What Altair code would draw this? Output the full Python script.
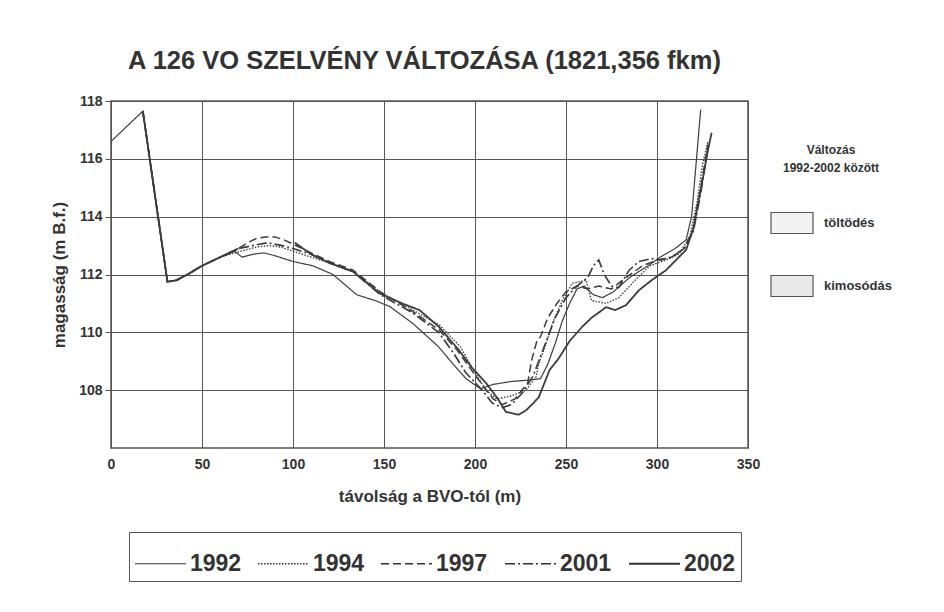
import altair as alt
import pandas as pd

# ---- data ----
years = ["1992", "1994", "1997", "2001", "2002"]

x_1992 = [0, 17.5, 31, 36, 42, 50, 60, 68, 72, 78, 84, 90, 95, 100, 111, 122, 135, 145, 153, 166, 180, 188, 195, 203, 210, 220, 230, 236, 240, 244, 248, 252, 256, 260, 265, 270, 276, 285, 295, 303, 310, 316, 319, 324]
y_1992 = [116.6, 117.65, 111.75, 111.8, 112.0, 112.3, 112.6, 112.8, 112.6, 112.7, 112.75, 112.65, 112.55, 112.45, 112.3, 112.0, 111.3, 111.1, 110.9, 110.3, 109.5, 108.9, 108.4, 108.05, 108.2, 108.3, 108.35, 108.4, 108.9, 109.6, 110.4, 111.0, 111.5, 111.6, 111.3, 111.2, 111.4, 111.9, 112.3, 112.65, 112.9, 113.2, 114.0, 117.7]

x_1994 = [17.5, 31, 36, 42, 50, 60, 71, 80, 87, 93, 98, 110, 120, 133, 149, 165, 180.5, 192, 200, 206, 212, 220, 228, 233.5, 235, 239, 242.5, 248, 253.5, 261, 264, 272, 279, 288, 296, 305, 312, 318, 322, 325, 328]
y_1994 = [117.65, 111.75, 111.8, 112.0, 112.3, 112.6, 112.8, 112.95, 113.0, 112.95, 112.85, 112.6, 112.4, 112.1, 111.35, 110.8, 110.25, 109.5, 108.6, 108.0, 107.7, 107.8, 108.0, 108.45, 108.9, 109.6, 110.3, 111.1, 111.7, 111.8, 111.1, 111.0, 111.2, 111.8, 112.3, 112.5, 112.7, 113.3, 114.5, 115.8, 116.6]

x_1997 = [17.5, 31, 36, 42, 50, 60, 70, 75, 80, 85, 90, 95, 100, 110, 120, 133, 148, 165, 180, 190, 198, 205, 210, 215, 222, 229, 231, 234, 236, 240, 245, 250, 256, 262, 268, 275, 283, 292, 300, 308, 315, 320, 324, 328]
y_1997 = [117.65, 111.75, 111.8, 112.0, 112.3, 112.6, 112.9, 113.1, 113.25, 113.3, 113.3, 113.2, 113.05, 112.75, 112.45, 112.15, 111.4, 110.75, 110.1, 109.4, 108.7, 108.1, 107.7, 107.5, 107.7, 108.25, 109.0, 109.7, 109.85, 110.5, 111.0, 111.4, 111.6, 111.5, 111.6, 111.5, 111.9, 112.3, 112.5, 112.6, 112.9, 113.6, 115.0, 116.5]

x_2001 = [17.5, 31, 36, 42, 50, 60, 70, 78, 86, 94, 100, 110, 120, 133, 148, 165, 180, 188, 195, 204, 209.5, 215, 220, 226, 232, 238, 244, 250, 256, 262, 265, 268, 271, 275, 279, 284.7, 290, 297, 302, 308, 315, 320, 324, 328]
y_2001 = [117.65, 111.75, 111.8, 112.0, 112.3, 112.6, 112.9, 113.0, 113.1, 113.0, 112.9, 112.7, 112.4, 112.1, 111.3, 110.7, 110.0, 109.3, 108.6, 108.0, 107.55, 107.4, 107.5, 107.9, 108.5, 109.5, 110.5, 111.2, 111.6, 111.9, 112.3, 112.5, 112.0, 111.6, 111.55, 112.15, 112.45, 112.55, 112.5, 112.6, 112.9, 113.5, 114.8, 116.4]

# 2002 is drawn in two pieces (gap between ~70 m and ~100 m)
x_2002a = [17.5, 31, 36, 42, 50, 60, 70]
y_2002a = [117.65, 111.75, 111.8, 112.0, 112.3, 112.6, 112.9]
x_2002b = [101, 110, 120, 133, 147.5, 160, 169.5, 180, 191, 198, 206, 212, 217, 224, 228, 232, 235, 241, 246, 252, 259, 264, 272, 277, 283, 290, 297, 305, 312, 316, 320, 323, 326, 328, 330]
y_2002b = [113.1, 112.7, 112.4, 112.1, 111.35, 111.0, 110.77, 110.2, 109.4, 108.8, 108.25, 107.75, 107.25, 107.15, 107.3, 107.55, 107.75, 108.7, 109.1, 109.7, 110.2, 110.5, 110.87, 110.77, 110.94, 111.45, 111.8, 112.15, 112.6, 112.85, 113.6, 114.6, 115.6, 116.3, 116.9]

change_kinds = ["töltödés", "kimosódás"]

x_ticks = [0, 50, 100, 150, 200, 250, 300, 350]
y_ticks = [108, 110, 112, 114, 116, 118]

# ---- build tables ----
rows = []
def add(year, seg, xs, ys):
    for xv, yv in zip(xs, ys):
        rows.append({"year": year, "seg": seg, "x": xv, "y": yv})

add("1992", "1992", x_1992, y_1992)
add("1994", "1994", x_1994, y_1994)
add("1997", "1997", x_1997, y_1997)
add("2001", "2001", x_2001, y_2001)
add("2002", "2002a", x_2002a, y_2002a)
add("2002", "2002b", x_2002b, y_2002b)
df = pd.DataFrame(rows)

# legend-only entries (placed outside the x domain and clipped away)
legend_df = pd.DataFrame({"kind": change_kinds, "x": [-100, -100], "y": [112, 112]})

FONT = "Liberation Sans"
INK = "#333333"

xscale = alt.Scale(domain=[0, 350], nice=False, zero=False)
yscale = alt.Scale(domain=[106, 118], nice=False, zero=False)

line_legend = alt.Legend(
    orient="none", legendX=18, legendY=431, direction="horizontal", columns=5,
    title=None, symbolType="stroke", symbolSize=2600, symbolStrokeColor=INK,
    labelFont=FONT, labelFontWeight="bold", labelFontSize=23, labelColor=INK,
    labelOffset=3, columnPadding=13, padding=5, strokeColor="#555555",
)

lines = alt.Chart(df).mark_line(color="#3c3c3c").encode(
    x=alt.X("x:Q", scale=xscale,
            axis=alt.Axis(values=x_ticks, title="távolság a BVO-tól (m)", grid=True,
                          ticks=False, labelPadding=9, titlePadding=17, labelFlush=False)),
    y=alt.Y("y:Q", scale=yscale,
            axis=alt.Axis(values=y_ticks, title="magasság (m B.f.)", grid=True,
                          ticks=True, tickSize=6, labelPadding=3, titlePadding=10)),
    strokeDash=alt.StrokeDash("year:N", sort=years,
                              scale=alt.Scale(domain=years,
                                              range=[[1, 0], [1.5, 1.5], [8, 4], [10, 3, 2, 3], [1, 0]]),
                              legend=line_legend),
    strokeWidth=alt.StrokeWidth("year:N", sort=years,
                                scale=alt.Scale(domain=years, range=[1.2, 1.8, 1.5, 1.5, 3.5]),
                                legend=line_legend),
    detail="seg:N",
    order="x:Q",
)

change_legend = alt.Legend(
    orient="none", legendX=659, legendY=44,
    title=["Változás", "1992-2002 között"], titleFont=FONT, titleFontSize=12,
    titleFontWeight="bold", titleColor=INK, titleAnchor="middle", titleAlign="center",
    titlePadding=26, titleLineHeight=18,
    symbolType="M-1,-0.5H1V0.5H-1Z", symbolSize=1764, symbolStrokeColor="#555555",
    symbolStrokeWidth=1.2, symbolOpacity=1,
    labelFont=FONT, labelFontWeight="bold", labelFontSize=13, labelColor=INK,
    labelOffset=10, rowPadding=28,
)

dummy = alt.Chart(legend_df).mark_square(clip=True, stroke="#555555", strokeWidth=1.2,
                                         opacity=1, size=100).encode(
    x=alt.X("x:Q", scale=xscale),
    y=alt.Y("y:Q", scale=yscale),
    fill=alt.Fill("kind:N", sort=change_kinds,
                  scale=alt.Scale(domain=change_kinds, range=["#f3f3f3", "#e9e9e9"]),
                  legend=change_legend),
)

chart = alt.layer(dummy, lines).properties(
    width=637, height=347,
    autosize=alt.AutoSizeParams(type="none"),
    padding={"left": 103, "top": 93, "right": 188, "bottom": 156},
    background="white",
    title=alt.TitleParams(text="A 126 VO SZELVÉNY VÁLTOZÁSA (1821,356 fkm)", font=FONT,
                          fontSize=25.5, fontWeight="bold", color=INK, anchor="middle",
                          dx=-5, offset=20),
).configure_axis(
    gridColor="#555555", gridWidth=1, gridOpacity=1, domain=False,
    tickColor="#555555", labelFont=FONT, labelFontWeight="bold", labelFontSize=14,
    labelColor=INK, titleFont=FONT, titleFontWeight="bold", titleFontSize=17, titleColor=INK,
).configure_view(stroke="#555555", strokeWidth=1.5)

chart.save("out.html", embed_options={"renderer": "svg", "actions": False})
